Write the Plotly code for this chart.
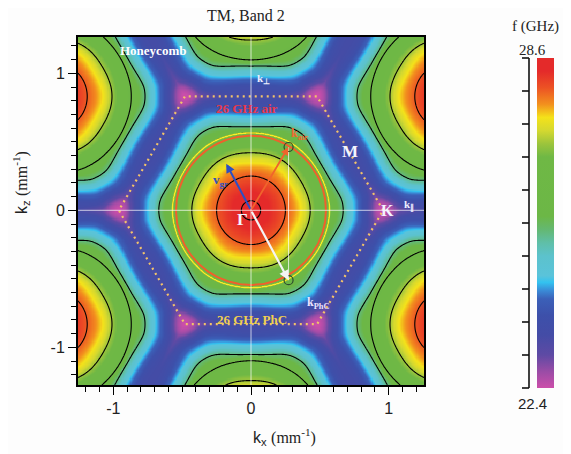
import numpy as np
import plotly.graph_objects as go

# ---------------- data ----------------
K_CORNER = 0.96            # |Gamma-K| (mm^-1), corner of the dotted hexagon
F_MIN, F_MAX = 22.4, 28.6  # colour range (GHz)
F_PHC = 26.0               # "26 GHz PhC" contour
F_AIR = 26.0               # "26 GHz air" circle (k = 2*pi*f/c)

# frequency readings along Gamma-K (kx axis)
gk_r = [0.00, 0.07, 0.15, 0.25, 0.36, 0.43, 0.50, 0.57, 0.67, 0.73, 0.79, 0.86, 0.92, 0.96]
gk_f = [28.6, 28.5, 28.3, 28.0, 27.5, 27.0, 26.5, 26.0, 25.3, 24.6, 24.0, 23.2, 22.55, 22.4]
# frequency readings along Gamma-M (kz axis)
gm_r = [0.00, 0.07, 0.25, 0.42, 0.50, 0.565, 0.61, 0.66, 0.72, 0.78, 0.831]
gm_f = [28.6, 28.5, 28.0, 27.0, 26.5, 26.0, 25.3, 24.7, 24.0, 23.5, 23.4]
# frequency readings along the zone edge, from M towards K
mk_s = [0.00, 0.10, 0.20, 0.30, 0.38, 0.44, 0.48]
mk_f = [23.4, 23.38, 23.3, 23.1, 22.85, 22.5, 22.4]

# black iso-frequency lines (GHz)
contour_levels = [28.5, 28.0, 27.0, 26.0, 25.3]

# marked wave vectors (mm^-1)
kair_pt = [0.273, 0.462]
kphc_pt = [0.273, -0.51]
vgr_tip = [-0.18, 0.34]

X_RANGE = [-1.257, 1.257]
Y_RANGE = [-1.275, 1.265]
CBAR_TICKS = 10            # equal steps on the colour-bar bracket


# ---------------- band surface built from the readings (reduced zone) ----------------
def pchip(xq, x, y):
    """Monotone cubic through the readings, flat at both ends."""
    x = np.asarray(x, float)
    y = np.asarray(y, float)
    h = np.diff(x)
    d = np.diff(y) / h
    m = np.zeros_like(y)
    for k in range(1, len(x) - 1):
        if d[k - 1] * d[k] > 0:
            w1 = 2 * h[k] + h[k - 1]
            w2 = h[k] + 2 * h[k - 1]
            m[k] = (w1 + w2) / (w1 / d[k - 1] + w2 / d[k])
    xq = np.clip(xq, x[0], x[-1])
    i = np.clip(np.searchsorted(x, xq) - 1, 0, len(h) - 1)
    t = (xq - x[i]) / h[i]
    h00 = 2 * t ** 3 - 3 * t ** 2 + 1
    h10 = t ** 3 - 2 * t ** 2 + t
    h01 = -2 * t ** 3 + 3 * t ** 2
    h11 = t ** 3 - t ** 2
    return h00 * y[i] + h10 * h[i] * m[i] + h01 * y[i + 1] + h11 * h[i] * m[i + 1]


MY = K_CORNER * np.sqrt(3) / 2
g1 = np.array([0.0, 2 * MY])
g2 = np.array([2 * MY * np.cos(np.pi / 6), 2 * MY * np.sin(np.pi / 6)])

xs = np.linspace(X_RANGE[0], X_RANGE[1], 301)
ys = np.linspace(Y_RANGE[0], Y_RANGE[1], 301)
KX, KY = np.meshgrid(xs, ys)

best = None
for n1 in range(-2, 3):
    for n2 in range(-2, 3):
        G = n1 * g1 + n2 * g2
        dx, dy = KX - G[0], KY - G[1]
        d2 = dx * dx + dy * dy
        if best is None:
            best, FX, FY = d2, dx, dy
        else:
            msk = d2 < best
            best = np.where(msk, d2, best)
            FX = np.where(msk, dx, FX)
            FY = np.where(msk, dy, FY)

r = np.hypot(FX, FY)
th = np.mod(np.arctan2(FY, FX), np.pi / 3)
th = np.where(th > np.pi / 6, np.pi / 3 - th, th)
r_edge = MY / np.cos(np.pi / 6 - th)
rho = np.clip(r / r_edge, 0, 1)
w = np.sin(3 * th) ** 2
f0 = (1 - w) * pchip(r, gk_r, gk_f) + w * pchip(r, gm_r, gm_f)
f0_edge = (1 - w) * pchip(r_edge, gk_r, gk_f) + w * pchip(r_edge, gm_r, gm_f)
fE = pchip(MY * np.tan(np.pi / 6 - th), mk_s, mk_f)
F = f0 + (fE - f0_edge) * rho ** 8

# central cell only, for the 26 GHz PhC line
ci = np.where(np.abs(xs) < 0.8)[0]
cj = np.where(np.abs(ys) < 0.8)[0]

# ---------------- figure ----------------
colorscale = [
    [0.00, "#cc4eaa"], [0.05, "#9a4ca6"], [0.10, "#5e4aa4"], [0.16, "#444ca6"],
    [0.22, "#3d50aa"], [0.27, "#3b60b8"], [0.295, "#3a8ad6"], [0.32, "#33c2f0"],
    [0.34, "#5ac3da"], [0.40, "#5cc2cc"], [0.44, "#5fbfa8"], [0.48, "#64b872"],
    [0.52, "#6cb746"], [0.70, "#6fb845"], [0.74, "#9cc43c"], [0.78, "#d4d830"],
    [0.82, "#f4e21a"], [0.86, "#f2901e"], [0.91, "#ec5224"], [0.96, "#e42a2a"],
    [1.00, "#e42a2a"],
]

# paper geometry (pixels); the page body adds an 8 px offset
OFF = 8
W, H = 571 - OFF, 454 - OFF
ML, MT, MR, MB = 78 - OFF, 37 - OFF, 11, 64
PW, PH = W - ML - MR, H - MT - MB


def px(x):
    return (x - OFF - ML) / PW


def py(y):
    return (H - MB - (y - OFF)) / PH


CB_TOP, CB_BOT = 58, 388   # colour-bar extent (reference pixels)

fig = go.Figure()
fig.add_trace(go.Heatmap(
    x=xs, y=ys, z=F, zmin=F_MIN, zmax=F_MAX, colorscale=colorscale,
    hoverinfo="skip",
    colorbar=dict(x=px(537), xanchor="left", y=py(CB_BOT), yanchor="bottom",
                  len=(CB_BOT - CB_TOP) / PH, lenmode="fraction", thickness=17,
                  xpad=0, ypad=0, outlinewidth=0, showticklabels=False, ticks="",
                  bgcolor="rgba(0,0,0,0)"),
))
for lev in contour_levels:
    fig.add_trace(go.Contour(
        x=xs, y=ys, z=F, showscale=False, hoverinfo="skip",
        contours=dict(start=lev, end=lev, size=1, coloring="none"),
        line=dict(color="black", width=1.1, smoothing=1),
    ))
fig.add_trace(go.Contour(
    x=xs[ci], y=ys[cj], z=F[np.ix_(cj, ci)], showscale=False, hoverinfo="skip",
    contours=dict(start=F_PHC, end=F_PHC, size=1, coloring="none"),
    line=dict(color="#f4f02a", width=1.6, smoothing=1),
))

# 26 GHz air circle
k_air = 2 * np.pi * F_AIR * 1e9 / 3e8 / 1000
tt = np.linspace(0, 2 * np.pi, 241)
fig.add_trace(go.Scatter(x=k_air * np.cos(tt), y=k_air * np.sin(tt), mode="lines",
                         line=dict(color="#f0602c", width=2), hoverinfo="skip", showlegend=False))

# Brillouin zone (dotted hexagon)
ang = np.deg2rad(np.arange(0, 361, 60))
fig.add_trace(go.Scatter(x=K_CORNER * np.cos(ang), y=K_CORNER * np.sin(ang), mode="lines",
                         line=dict(color="#f2c46a", width=2.2, dash="2px,4px"),
                         hoverinfo="skip", showlegend=False))

# vertical white segment between the two wave vectors
fig.add_trace(go.Scatter(x=[kair_pt[0], kphc_pt[0]], y=[kair_pt[1], kphc_pt[1]], mode="lines",
                         line=dict(color="rgba(255,255,255,0.75)", width=1),
                         hoverinfo="skip", showlegend=False))

# markers
fig.add_trace(go.Scatter(x=[kair_pt[0], kphc_pt[0]], y=[kair_pt[1], kphc_pt[1]], mode="markers",
                         marker=dict(symbol="circle-open", size=9, color="#2e4a2e", line=dict(width=1.2)),
                         hoverinfo="skip", showlegend=False))

# colour-bar bracket with equal-step ticks, drawn in a full-paper overlay subplot
cb_y0, cb_y1 = py(CB_BOT), py(CB_TOP)
bx, by = [px(529), px(529), None], [cb_y0, cb_y1, None]
for i in range(CBAR_TICKS + 1):
    yy = cb_y0 + (cb_y1 - cb_y0) * i / CBAR_TICKS
    bx += [px(522), px(529), None]
    by += [yy, yy, None]
fig.add_trace(go.Scatter(x=bx, y=by, xaxis="x2", yaxis="y3", mode="lines",
                         line=dict(color="#111111", width=1.6), hoverinfo="skip",
                         showlegend=False, cliponaxis=False))

serif = "Liberation Serif, Times New Roman, serif"
sans = "Liberation Sans, Arial, sans-serif"

# cross-hair lines
fig.add_shape(type="line", xref="x domain", yref="y", x0=0, x1=1, y0=0, y1=0,
              line=dict(color="rgba(255,255,255,0.7)", width=1))
fig.add_shape(type="line", xref="x", yref="y domain", x0=0, x1=0, y0=0, y1=1,
              line=dict(color="rgba(255,255,255,0.7)", width=1))

# arrows
for tip, col, wd in [(vgr_tip, "#2b4fc4", 2), (kair_pt, "#f0642c", 1.8), (kphc_pt, "#f4f4f4", 2.2)]:
    fig.add_annotation(x=tip[0], y=tip[1], ax=0, ay=0, xref="x", yref="y", axref="x", ayref="y",
                       text="", showarrow=True, arrowhead=2, arrowsize=0.9, arrowwidth=wd, arrowcolor=col)

labels = [
    ("Honeycomb", -0.71, 1.17, "#ffffff", 13),
    ("k<sub>⊥</sub>", 0.09, 0.96, "#eeeeff", 11),
    ("26 GHz air", -0.03, 0.745, "#e8384a", 13),
    ("k<sub>air</sub>", 0.35, 0.56, "#f06a30", 12),
    ("M", 0.72, 0.43, "#f4f4ff", 17),
    ("K", 0.99, 0.0, "#f4f4ff", 16),
    ("k<sub>∥</sub>", 1.15, 0.04, "#eeeeff", 11),
    ("Γ", -0.06, -0.07, "#f4f4ff", 17),
    ("v<sub>gr</sub>", -0.22, 0.22, "#2e4fc0", 13),
    ("k<sub>PhC</sub>", 0.49, -0.68, "#ece4ff", 12),
    ("26 GHz PhC", 0.01, -0.80, "#f0d050", 13),
]
for t, x, y, c, s in labels:
    fig.add_annotation(x=x, y=y, xref="x", yref="y", text="<b>" + t + "</b>", showarrow=False,
                       xanchor="center", yanchor="middle",
                       font=dict(family=serif, size=s, color=c))

# texts around the plot
outer = [
    ("TM, Band 2", 246, 15, serif, 16, 0),
    ("f (GHz)", 535, 27, serif, 15, 0),
    (f"{F_MAX:.1f}", 532, 50, serif, 15, 0),
    (f"{F_MIN:.1f}", 532, 403, sans, 15, 0),
    ("k<sub>x</sub> <span style='font-family:Liberation Serif'>(mm<sup>-1</sup>)</span>", 284, 437, sans, 16, 0),
    ("k<sub>z</sub> <span style='font-family:Liberation Serif'>(mm<sup>-1</sup>)</span>", 21, 183, sans, 16, -90),
]
for t, x, y, fam, s, ang_t in outer:
    fig.add_annotation(x=px(x), y=py(y), xref="paper", yref="paper", text=t, showarrow=False,
                       xanchor="center", yanchor="middle", textangle=ang_t,
                       font=dict(family=fam, size=s, color="#222"))

axis_common = dict(showgrid=False, zeroline=False, showline=True, linecolor="black", linewidth=2,
                   mirror=True, ticks="outside", ticklen=8, tickcolor="black", tickwidth=1,
                   tickvals=[-1, 0, 1], ticktext=["-1", "0", "1"], automargin=False,
                   tickfont=dict(family=sans, size=16, color="#222"),
                   minor=dict(dtick=0.1, ticks="outside", ticklen=5, tickcolor="black"))

fig.update_layout(
    width=W, height=H,
    margin=dict(l=ML, r=MR, t=MT, b=MB, pad=0, autoexpand=False),
    paper_bgcolor="#fdfdfd", plot_bgcolor="rgba(0,0,0,0)",
    showlegend=False,
    xaxis=dict(range=X_RANGE, domain=[0, 346 / PW], anchor="y", **axis_common),
    yaxis=dict(range=Y_RANGE, domain=[py(385), 1], anchor="x", **axis_common),
    xaxis2=dict(domain=[0, 1], range=[0, 1], anchor="y3", visible=False, fixedrange=True),
    yaxis3=dict(domain=[0, 1], range=[0, 1], anchor="x2", visible=False, fixedrange=True),
)

fig.write_html("out.html")
